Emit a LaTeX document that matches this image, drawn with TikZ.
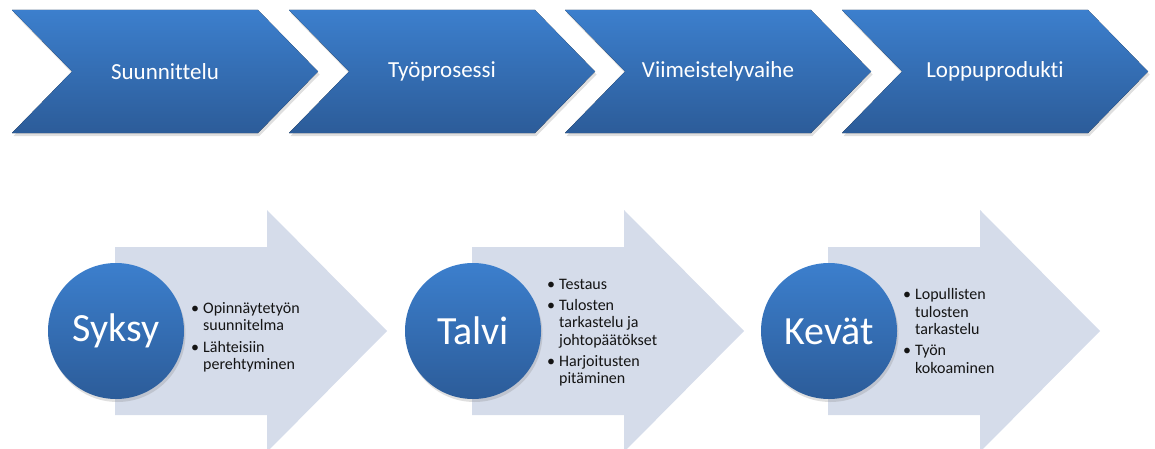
\documentclass[tikz,border=0pt]{standalone}
\usepackage{fontspec}
\setmainfont{Carlito}[Ligatures=NoCommon]
\usetikzlibrary{shadows}
\definecolor{chevtop}{RGB}{60,127,205}
\definecolor{chevbot}{RGB}{44,92,153}
\definecolor{arrowfill}{RGB}{213,220,234}
\definecolor{bodytext}{RGB}{20,20,20}
\tikzset{
  chevron/.style={top color=chevtop, bottom color=chevbot, draw=none,
    drop shadow={opacity=0.25, shadow xshift=1.5pt, shadow yshift=-3pt}},
  chevlabel/.style={text=white, font=\fontsize{23}{26}\selectfont, inner sep=0pt},
  bigarrow/.style={fill=arrowfill, draw=none},
  season/.style={circle, minimum size=136pt, inner sep=0pt, top color=chevtop, bottom color=chevbot,
    text=white, font=\fontsize{40}{44}\selectfont,
    drop shadow={opacity=0.25, shadow xshift=1.5pt, shadow yshift=-3pt}},
  bullets/.style={anchor=west, inner sep=0pt, text=bodytext, font=\fontsize{16}{17.3}\selectfont}
}
\newcommand{\mychev}[3]{%
  \fill[chevron] (#1,438) -- (#1+246,438) -- (#1+306,376.5) -- (#1+246,315) -- (#1,315) -- (#1+60,376.5) -- cycle;
  \node[chevlabel] (#2) at (#1+153,376.5) {#3};}
\newcommand{\myarrow}[1]{%
  \fill[bigarrow] (#1,201) -- (#1+152,201) -- (#1+152,238) -- (#1+272,117) -- (#1+152,-4) -- (#1+152,33) -- (#1,33) -- cycle;}
\newcommand{\bl}{\textbullet}
\begin{document}
\begin{tikzpicture}[x=1pt,y=1pt]
\useasboundingbox (0,0) rectangle (1155,448);
\mychev{12}{c1}{Suunnittelu}
\mychev{289}{c2}{Työprosessi}
\mychev{565}{c3}{Viimeistelyvaihe}
\mychev{842}{c4}{Loppuprodukti}

\myarrow{115}
\myarrow{472}
\myarrow{828}

\node[season] (syksy) at (116,117) {Syksy};
\node[season] (talvi) at (473,117) {Talvi};
\node[season] (kevat) at (829,117) {Kevät};

\node[bullets] (l1) at (191,110) {\begin{tabular}{@{}l@{\hspace{4pt}}l@{}}
\bl & Opinnäytetyön\\ & suunnitelma\\[4pt]
\bl & Lähteisiin\\ & perehtyminen
\end{tabular}};
\node[bullets] (l2) at (547,115) {\begin{tabular}{@{}l@{\hspace{4pt}}l@{}}
\bl & Testaus\\[4pt]
\bl & Tulosten\\ & tarkastelu ja\\ & johtopäätökset\\[4pt]
\bl & Harjoitusten\\ & pitäminen
\end{tabular}};
\node[bullets] (l3) at (903,115) {\begin{tabular}{@{}l@{\hspace{4pt}}l@{}}
\bl & Lopullisten\\ & tulosten\\ & tarkastelu\\[4pt]
\bl & Työn\\ & kokoaminen
\end{tabular}};
\end{tikzpicture}
\end{document}
